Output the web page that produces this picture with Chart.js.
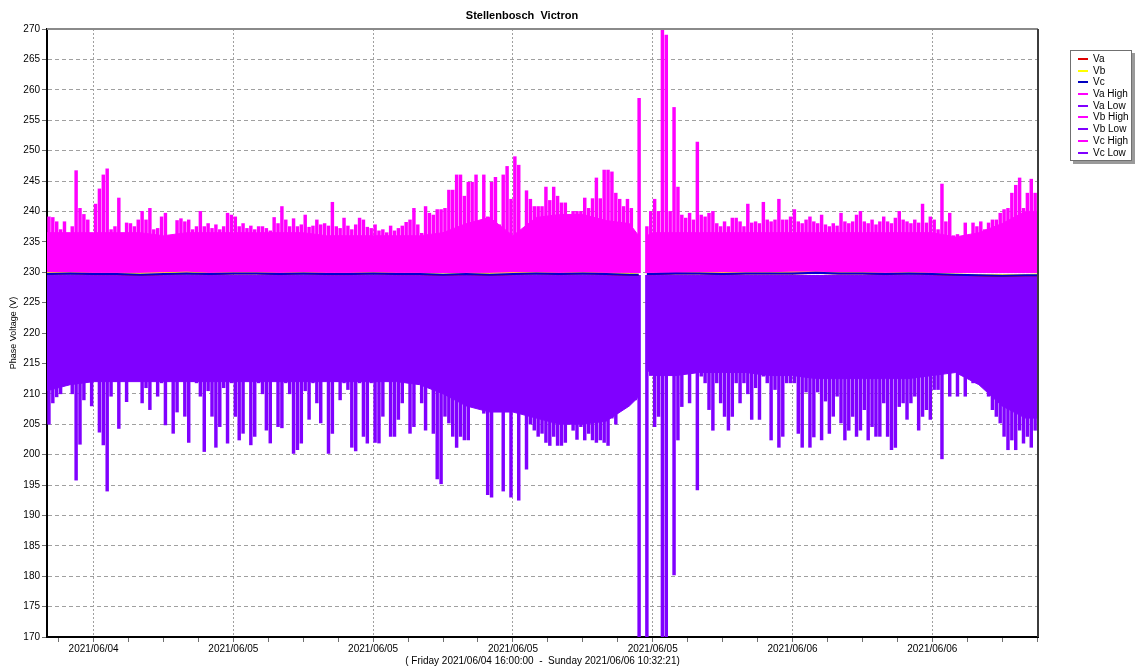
<!DOCTYPE html>
<html>
<head>
<meta charset="utf-8">
<title>Stellenbosch Victron</title>
<script src="https://cdn.jsdelivr.net/npm/chart.js"></script>
<style>
  html, body { margin: 0; padding: 0; background: #fff; }
  #wrap { position: relative; width: 1138px; height: 668px; }
  #chart { display: block; }
  #legend {
    position: absolute; left: 1070px; top: 50px; width: 62px; height: 111px;
    box-sizing: border-box; border: 1px solid #707070; background: #fff;
    box-shadow: 3px 3px 0 #9a9a9a; padding-top: 2px;
    font: 10px "Liberation Sans", Arial, sans-serif; color: #000;
  }
  #legend .item { position: relative; height: 11.7px; line-height: 11.7px; padding-left: 22px; white-space: nowrap; }
  #legend .sw { position: absolute; left: 7px; top: 5px; width: 10px; height: 2px; }
</style>
</head>
<body>
<div id="wrap">
  <canvas id="chart" width="1138" height="668"></canvas>
  <div id="legend"></div>
</div>
<script>
// time axis is in hours since Friday 2021/06/04 16:00:00
const xMaxHours = 42.5392; // Sunday 2021/06/06 10:32:21
const xTickHours = [2, 8, 14, 20, 26, 32, 38];
const xTickLabels = ['2021/06/04', '2021/06/05', '2021/06/05', '2021/06/05', '2021/06/05', '2021/06/06', '2021/06/06'];
const binHours = 1 / 6; // 10 minute samples for the high / low peaks

// highest phase voltage per 10 minutes (Va High)
const highTop = [
  239.1, 239.0, 238.3, 237.0, 238.3, 236.4, 237.5, 246.7, 240.5, 239.5,
  238.6, 236.4, 241.2, 243.7, 246.0, 247.0, 237.0, 237.5, 242.2, 236.4,
  238.1, 238.0, 237.5, 238.6, 240.0, 238.6, 240.5, 237.0, 237.2, 239.1,
  239.7, 236.0, 235.9, 238.5, 238.8, 238.3, 238.6, 237.0, 237.5, 240.0,
  237.5, 238.0, 237.2, 237.8, 237.0, 237.5, 239.7, 239.4, 239.1, 237.5,
  238.0, 237.2, 237.6, 237.0, 237.5, 237.5, 237.2, 236.8, 239.0, 238.0,
  240.8, 238.6, 237.5, 238.8, 237.5, 237.8, 239.4, 237.4, 237.6, 238.6,
  237.8, 238.0, 237.6, 241.5, 237.5, 237.2, 238.9, 237.6, 237.0, 237.8,
  238.9, 238.6, 237.4, 237.2, 237.8, 236.8, 237.0, 236.5, 237.6, 236.8,
  237.2, 237.6, 238.2, 238.6, 240.5, 237.8, 236.4, 240.8, 239.7, 239.4,
  240.3, 240.3, 240.5, 243.5, 243.5, 246.0, 246.0, 242.5, 244.8, 244.8,
  246.0, 237.5, 246.0, 239.1, 244.8, 245.6, 237.8, 246.0, 247.4, 242.0,
  249.0, 247.6, 233.7, 243.4, 242.0, 240.8, 240.8, 240.8, 244.0, 241.8,
  244.0, 242.5, 241.4, 241.4, 239.1, 240.0, 240.0, 240.0, 242.2, 240.5,
  242.1, 245.5, 242.1, 246.8, 246.8, 246.5, 243.0, 242.0, 240.8, 242.0,
  240.5, 235.5, 258.6, null, 237.5, 240.0, 242.0, 240.0, 270.5, 269.0,
  240.0, 257.1, 244.0, 239.4, 238.9, 239.7, 238.6, 251.4, 239.4, 239.1,
  239.7, 240.0, 238.0, 237.5, 238.3, 237.5, 238.9, 238.9, 238.3, 237.5,
  241.2, 238.1, 238.3, 238.0, 241.5, 238.6, 238.3, 238.6, 242.0, 238.6,
  238.6, 239.1, 240.3, 238.3, 238.0, 238.6, 239.1, 238.3, 238.0, 239.4,
  237.8, 237.5, 238.0, 237.6, 239.7, 238.3, 238.0, 238.3, 239.4, 240.0,
  238.3, 238.0, 238.6, 237.8, 238.3, 239.1, 238.3, 238.0, 238.9, 240.0,
  238.6, 238.3, 238.0, 238.6, 238.1, 241.2, 238.1, 239.1, 238.6, 237.0,
  244.5, 238.3, 239.7, 236.0, 236.2, 235.8, 238.1, 235.6, 238.1, 237.5,
  238.3, 237.0, 238.1, 238.6, 238.6, 239.7, 240.3, 240.5, 243.0, 244.3,
  245.5, 240.5, 243.0, 245.3, 243.0
];

// lowest phase voltage per 10 minutes (Va Low)
const lowBottom = [
  205.0, 208.5, 209.5, 210.0, 212.0, 212.5, 210.0, 195.8, 201.7, 209.0,
  213.0, 208.0, 213.5, 203.7, 201.6, 194.0, 209.6, 212.0, 204.3, 216.0,
  208.7, 217.3, 212.5, 215.5, 208.5, 211.0, 207.4, 214.0, 209.6, 211.8,
  204.9, 215.5, 203.5, 207.0, 212.5, 206.3, 202.0, 212.0, 211.8, 209.6,
  200.5, 210.5, 206.3, 201.2, 204.6, 211.0, 201.9, 211.8, 206.3, 202.4,
  203.5, 212.5, 201.6, 203.0, 211.8, 210.0, 204.0, 201.9, 212.5, 204.6,
  204.4, 211.8, 210.0, 200.2, 200.8, 201.9, 210.5, 205.8, 211.8, 208.5,
  205.2, 212.4, 200.2, 203.5, 212.0, 209.0, 211.8, 210.7, 201.2, 200.6,
  211.8, 203.0, 201.9, 211.8, 202.0, 201.9, 206.3, 212.4, 203.0, 203.0,
  205.8, 208.5, 214.0, 203.5, 204.6, 212.4, 208.5, 204.0, 211.8, 203.5,
  196.0, 195.2, 206.3, 205.2, 203.0, 201.2, 203.0, 202.4, 202.4, 208.5,
  209.5, 212.0, 206.8, 193.4, 193.0, 216.0, 211.8, 194.0, 216.2, 193.0,
  215.0, 192.5, 220.5, 197.6, 205.0, 204.0, 203.0, 203.5, 202.0, 201.5,
  203.0, 201.5, 201.5, 202.0, 210.9, 204.0, 202.5, 204.6, 202.4, 203.5,
  202.4, 202.0, 202.4, 202.0, 201.5, 206.0, 205.0, 209.0, 210.0, 209.5,
  210.6, 209.0, 170.0, null, 170.0, 213.0, 204.6, 206.3, 170.0, 170.0,
  215.5, 180.2, 202.4, 207.9, 217.3, 208.5, 216.2, 194.2, 212.9, 211.8,
  207.4, 204.0, 211.8, 208.5, 206.3, 204.0, 206.3, 211.8, 208.5, 211.8,
  210.0, 205.8, 211.0, 205.8, 212.9, 211.8, 202.4, 210.7, 201.2, 203.0,
  211.8, 211.8, 211.8, 203.5, 201.2, 210.3, 201.2, 202.9, 210.3, 202.4,
  208.8, 203.5, 206.3, 209.6, 205.2, 202.4, 204.0, 206.3, 203.0, 204.0,
  207.4, 202.4, 204.6, 203.0, 203.0, 208.5, 203.0, 200.8, 201.2, 207.9,
  208.5, 205.8, 208.5, 209.6, 204.0, 206.3, 207.4, 205.8, 210.7, 210.7,
  199.3, 214.5, 209.6, 217.0, 209.6, 215.5, 209.6, 214.0, 211.8, 211.8,
  212.9, 211.8, 209.6, 207.4, 206.3, 205.2, 203.0, 200.8, 202.4, 200.8,
  204.0, 201.9, 203.0, 201.2, 204.0
];

// hourly readings (null = logger gap)
const vHours = [
  0, 1, 2, 3, 4, 5, 6, 7, 8, 9,
  10, 11, 12, 13, 14, 15, 16, 17, 18, 19,
  20, 21, 22, 23, 24, 25, 25.4, 25.55, 25.75, 26,
  27, 28, 29, 30, 31, 32, 33, 34, 35, 36,
  37, 38, 39, 40, 41, 42, 42.5
];
const va = [
  229.6, 229.7, 229.6, 229.6, 229.5, 229.6, 229.7, 229.6, 229.7, 229.7,
  229.6, 229.7, 229.6, 229.6, 229.7, 229.6, 229.6, 229.5, 229.6, 229.5,
  229.6, 229.7, 229.6, 229.7, 229.6, 229.5, 229.5, null, 229.6, 229.6,
  229.7, 229.7, 229.6, 229.7, 229.7, 229.7, 229.8, 229.7, 229.7, 229.6,
  229.7, 229.6, 229.5, 229.4, 229.3, 229.4, 229.4
];
const vb = [
  229.9, 229.9, 229.8, 229.8, 229.8, 229.9, 230.0, 229.8, 229.9, 229.9,
  229.8, 229.9, 229.8, 229.8, 229.9, 229.8, 229.8, 229.7, 229.8, 229.8,
  229.9, 229.9, 229.8, 229.9, 229.8, 229.8, 229.7, null, 229.8, 229.8,
  229.8, 229.9, 229.9, 229.9, 229.9, 230.0, 230.0, 229.9, 229.9, 229.8,
  229.9, 229.8, 229.7, 229.6, 229.6, 229.6, 229.7
];
const vc = [
  229.7, 229.8, 229.7, 229.7, 229.6, 229.7, 229.8, 229.7, 229.8, 229.8,
  229.7, 229.8, 229.7, 229.7, 229.8, 229.7, 229.7, 229.6, 229.7, 229.6,
  229.7, 229.8, 229.7, 229.8, 229.7, 229.6, 229.6, null, 229.7, 229.7,
  229.8, 229.8, 229.7, 229.8, 229.8, 229.8, 229.9, 229.8, 229.8, 229.7,
  229.8, 229.7, 229.6, 229.5, 229.4, 229.5, 229.5
];
// hourly high / low levels of Vb and Vc
const vbHigh = [
  236.5, 236.5, 236.5, 236.5, 236.5, 236.0, 236.5, 236.5, 236.5, 236.5,
  236.5, 236.5, 236.0, 236.0, 236.0, 236.0, 236.0, 236.5, 238.0, 239.0,
  236.0, 239.0, 239.5, 239.5, 238.5, 238.0, 236.0, null, 236.0, 236.5,
  236.5, 236.5, 236.5, 236.5, 236.5, 236.5, 236.5, 236.5, 236.5, 236.5,
  236.5, 236.5, 235.8, 236.5, 238.0, 240.0, 240.0
];
const vcHigh = [
  236.0, 236.0, 236.0, 236.0, 236.0, 235.5, 236.0, 236.0, 236.0, 236.0,
  236.0, 236.0, 235.5, 235.5, 235.5, 235.5, 235.5, 236.0, 237.5, 238.5,
  235.5, 238.5, 239.0, 239.0, 238.0, 237.5, 235.5, null, 235.5, 236.0,
  236.0, 236.0, 236.0, 236.0, 236.0, 236.0, 236.0, 236.0, 236.0, 236.0,
  236.0, 236.0, 235.3, 236.0, 237.5, 239.5, 239.5
];
const vbLow = [
  210.5, 211.5, 212.0, 212.0, 212.0, 212.0, 212.0, 212.0, 212.0, 212.0,
  212.0, 212.0, 212.0, 212.0, 212.0, 212.0, 211.5, 210.0, 208.0, 207.0,
  207.0, 206.0, 205.0, 205.0, 205.5, 208.0, 209.5, null, 214.0, 213.0,
  213.0, 213.5, 213.5, 213.5, 213.0, 213.0, 212.5, 212.5, 212.5, 212.5,
  212.5, 213.0, 213.5, 211.5, 208.0, 206.0, 206.0
];
const vcLow = [
  211.0, 212.0, 212.5, 212.5, 212.5, 212.5, 212.5, 212.5, 212.5, 212.5,
  212.5, 212.5, 212.5, 212.5, 212.5, 212.5, 212.0, 210.5, 208.5, 207.5,
  207.5, 206.5, 205.5, 205.5, 206.0, 208.5, 210.0, null, 214.5, 213.5,
  213.5, 214.0, 214.0, 214.0, 213.5, 213.5, 213.0, 213.0, 213.0, 213.0,
  213.0, 213.5, 214.0, 212.0, 208.5, 206.5, 206.5
];

const highBase = 229.9;
const lowBase = 229.5;
const magenta = '#ff00ff';
const violet = '#8000ff';
const gridColor = '#a0a0a0';
const fontFamily = '"Liberation Sans", Arial, Helvetica, sans-serif';

const hourPoints = arr => arr.map((v, i) => ({ x: vHours[i], y: v }));
const peakBars = (arr, base) => arr.map((v, i) => ({ x: (i + 0.5) * binHours, y: v === null ? null : [base, v] }));

const hourLine = (label, arr, color, width, order) => ({
  label, data: hourPoints(arr), borderColor: color, backgroundColor: color,
  borderWidth: width, fill: false, order
});
const bodyFill = (label, arr, color, base) => ({
  label, data: hourPoints(arr), borderColor: color, backgroundColor: color,
  borderWidth: 1, fill: { value: base }, order: 4
});
const peaks = (label, arr, color, base) => ({
  type: 'bar', label, data: peakBars(arr, base), backgroundColor: color,
  borderWidth: 0, barThickness: 2.8, grouped: false, order: 3
});

const datasets = [
  hourLine('Va', va, '#e00000', 1, 2),
  hourLine('Vb', vb, '#ffff00', 1, 1),
  hourLine('Vc', vc, '#0000d0', 2, 0),
  peaks('Va High', highTop, magenta, highBase),
  peaks('Va Low', lowBottom, violet, lowBase),
  bodyFill('Vb High', vbHigh, magenta, highBase),
  bodyFill('Vb Low', vbLow, violet, lowBase),
  bodyFill('Vc High', vcHigh, magenta, highBase),
  bodyFill('Vc Low', vcLow, violet, lowBase)
];

Chart.defaults.font.family = fontFamily;
Chart.defaults.color = '#000';

// frame and title like the logger software draws them
const frame = {
  id: 'frame',
  afterDraw(chart) {
    const { ctx, chartArea: a } = chart;
    ctx.save();
    ctx.lineWidth = 2;
    ctx.strokeStyle = '#8a8a8a';
    ctx.beginPath();
    ctx.moveTo(a.left, a.top);
    ctx.lineTo(a.right, a.top);
    ctx.stroke();
    ctx.strokeStyle = '#3c3c3c';
    ctx.beginPath();
    ctx.moveTo(a.right, a.top);
    ctx.lineTo(a.right, a.bottom);
    ctx.stroke();
    ctx.font = 'bold 11px ' + fontFamily;
    ctx.fillStyle = '#000';
    ctx.textAlign = 'center';
    ctx.textBaseline = 'middle';
    ctx.fillText('Stellenbosch  Victron', 522, 16);
    ctx.restore();
  }
};

const chart = new Chart(document.getElementById('chart'), {
  type: 'line',
  data: { datasets },
  options: {
    responsive: false,
    animation: false,
    spanGaps: false,
    elements: { point: { radius: 0, hoverRadius: 0 }, line: { tension: 0 } },
    layout: { padding: { left: 0, right: 100, top: 29, bottom: 0 } },
    plugins: {
      legend: { display: false },
      tooltip: { enabled: false },
      title: { display: false }
    },
    scales: {
      x: {
        type: 'linear',
        min: 0,
        max: xMaxHours,
        offset: false,
        afterBuildTicks: scale => {
          const ticks = [];
          for (let h = 0.5; h <= xMaxHours; h += 1.5) ticks.push({ value: h });
          scale.ticks = ticks;
        },
        afterFit: scale => { scale.height = 31; },
        ticks: {
          autoSkip: false,
          maxRotation: 0,
          padding: 1,
          font: { size: 10 },
          callback: v => {
            const k = xTickHours.indexOf(v);
            return k >= 0 ? xTickLabels[k] : '';
          }
        },
        grid: {
          offset: false,
          color: c => (c.tick && xTickHours.includes(c.tick.value)) ? gridColor : 'rgba(0,0,0,0)',
          tickColor: '#707070',
          tickLength: 5
        },
        border: { color: '#000', width: 2, dash: [2, 2] },
        title: {
          display: true,
          text: '( Friday 2021/06/04 16:00:00  -  Sunday 2021/06/06 10:32:21)',
          font: { size: 10 },
          padding: { top: 0, bottom: 1 }
        }
      },
      y: {
        min: 170,
        max: 270,
        afterFit: scale => { scale.width = 47; },
        ticks: { stepSize: 5, padding: 2, font: { size: 10 } },
        grid: {
          color: c => (c.tick && (c.tick.value === 170 || c.tick.value === 270)) ? 'rgba(0,0,0,0)' : gridColor,
          tickColor: '#707070',
          tickLength: 5
        },
        border: { color: '#000', width: 2, dash: [4, 3] },
        title: {
          display: true,
          text: 'Phase Voltage (V)',
          font: { size: 9 },
          padding: { top: 8 }
        }
      }
    }
  },
  plugins: [frame]
});

// boxed legend on the right
const legendBox = document.getElementById('legend');
datasets.forEach(ds => {
  const item = document.createElement('div');
  item.className = 'item';
  const sw = document.createElement('span');
  sw.className = 'sw';
  sw.style.background = ds.label === 'Vc' ? '#0000c0' : ds.backgroundColor;
  item.appendChild(sw);
  item.appendChild(document.createTextNode(ds.label));
  legendBox.appendChild(item);
});
</script>
</body>
</html>
